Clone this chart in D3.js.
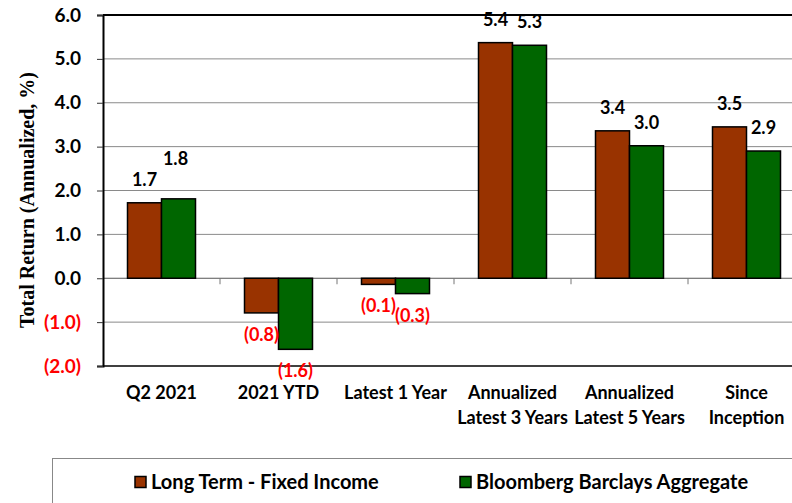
<!DOCTYPE html>
<html><head><meta charset="utf-8">
<script src="https://cdn.jsdelivr.net/npm/d3@7"></script>
<style>body{margin:0;background:#fff}svg{display:block}</style>
</head><body><svg id="c" width="792" height="503"></svg>
<script>
const categories = ["Q2 2021", "2021 YTD", "Latest 1 Year", "Annualized\nLatest 3 Years", "Annualized\nLatest 5 Years", "Since\nInception"];
const seriesNames = ["Long Term - Fixed Income", "Bloomberg Barclays Aggregate"];
const longTerm = [1.72, -0.79, -0.14, 5.37, 3.36, 3.45];
const bbAgg = [1.81, -1.62, -0.35, 5.31, 3.02, 2.90];
const yTicks = [6, 5, 4, 3, 2, 1, 0, -1, -2];
const colors = ["#993300", "#006600"];

const svg = d3.select("#c");
const M = {left: 103, top: 15, bottom: 366, right: 805};
const font = "Lato, 'Open Sans', sans-serif";
const y = d3.scaleLinear().domain([-2, 6]).range([M.bottom, M.top]);
const x = d3.scaleBand().domain(categories).range([M.left, M.right]).padding(0);
const xs = d3.scaleBand().domain([0, 1]).range([-34, 34]).padding(0);
const fmt = v => v < 0 ? "(" + Math.abs(v).toFixed(1) + ")" : v.toFixed(1);

// gridlines
svg.append("g").selectAll("line").data(yTicks.filter(t => t !== 6 && t !== -2)).join("line")
  .attr("x1", M.left).attr("x2", 792).attr("y1", d => y(d)).attr("y2", d => y(d))
  .attr("stroke", d => d === 0 ? "#555" : "#8a8a8a").attr("stroke-width", 1);
// top/bottom border
svg.append("line").attr("x1", M.left).attr("x2", 792).attr("y1", y(6)).attr("y2", y(6)).attr("stroke", "#000").attr("stroke-width", 2.2);
svg.append("line").attr("x1", M.left).attr("x2", 792).attr("y1", y(-2)).attr("y2", y(-2)).attr("stroke", "#000").attr("stroke-width", 1.6);

// y axis
const yAxis = d3.axisLeft(y).tickValues(yTicks).tickSize(6).tickPadding(16).tickFormat(fmt);
const ga = svg.append("g").attr("transform", `translate(${M.left},0)`).call(yAxis);
ga.select(".domain").attr("stroke", "#000").attr("stroke-width", 2);
ga.selectAll(".tick line").attr("stroke", "#333");
ga.selectAll(".tick text").attr("font-family", font).attr("font-weight", "bold").attr("font-size", 19)
  .attr("fill", d => d < 0 ? "#ff0000" : "#000");

// category ticks at zero line
svg.append("g").selectAll("line").data(categories.slice(1)).join("line")
  .attr("x1", d => x(d)).attr("x2", d => x(d)).attr("y1", y(0)).attr("y2", y(0) + 6)
  .attr("stroke", "#777").attr("stroke-width", 1);

// bars
const series = [longTerm, bbAgg];
series.forEach((vals, si) => {
  svg.append("g").selectAll("rect").data(vals).join("rect")
    .attr("x", (d, i) => x(categories[i]) + x.bandwidth() / 2 + xs(si))
    .attr("width", xs.bandwidth())
    .attr("y", d => y(Math.max(0, d)))
    .attr("height", d => Math.abs(y(d) - y(0)))
    .attr("fill", colors[si]).attr("stroke", "#000").attr("stroke-width", 1.5);
});

// data labels
const lift = {"1-0": 17};
series.forEach((vals, si) => {
  svg.append("g").selectAll("text").data(vals).join("text")
    .attr("x", (d, i) => x(categories[i]) + x.bandwidth() / 2 + xs(si) + xs.bandwidth() / 2 + (si === 1 && i === 0 ? -3 : 0))
    .attr("y", (d, i) => d >= 0 ? y(d) - 17 - (lift[si + "-" + i] || 0) : y(d) + 28)
    .attr("text-anchor", "middle").attr("font-family", font).attr("font-weight", "bold").attr("font-size", 18)
    .attr("fill", d => d < 0 ? "#ff0000" : "#000")
    .text(d => fmt(d));
});

// y title
svg.append("text").attr("transform", "translate(34,200) rotate(-90)")
  .attr("text-anchor", "middle").attr("font-family", "'Liberation Serif', 'Times New Roman', serif")
  .attr("font-weight", "bold").attr("font-size", 20).text("Total Return (Annualized, %)");

// x labels
const xl = svg.append("g").selectAll("text").data(categories).join("text")
  .attr("x", d => x(d) + x.bandwidth() / 2).attr("y", 399)
  .attr("text-anchor", "middle").attr("font-family", font).attr("font-weight", "bold").attr("font-size", 18);
xl.each(function(d) {
  const t = d3.select(this);
  d.split("\n").forEach((line, k) => {
    t.append("tspan").attr("x", x(d) + x.bandwidth() / 2).attr("dy", k === 0 ? 0 : 25).text(line);
  });
});

// legend
svg.append("rect").attr("x", 52.5).attr("y", 458.5).attr("width", 760).attr("height", 60)
  .attr("fill", "none").attr("stroke", "#888").attr("stroke-width", 1);
const legX = [135, 460];
seriesNames.forEach((n, i) => {
  svg.append("rect").attr("x", legX[i]).attr("y", 476.5).attr("width", 11).attr("height", 11)
    .attr("fill", colors[i]).attr("stroke", "#000").attr("stroke-width", 1.5);
  svg.append("text").attr("x", legX[i] + 16).attr("y", 489).attr("font-family", font)
    .attr("font-weight", "bold").attr("font-size", 20).text(n);
});
</script></body></html>
